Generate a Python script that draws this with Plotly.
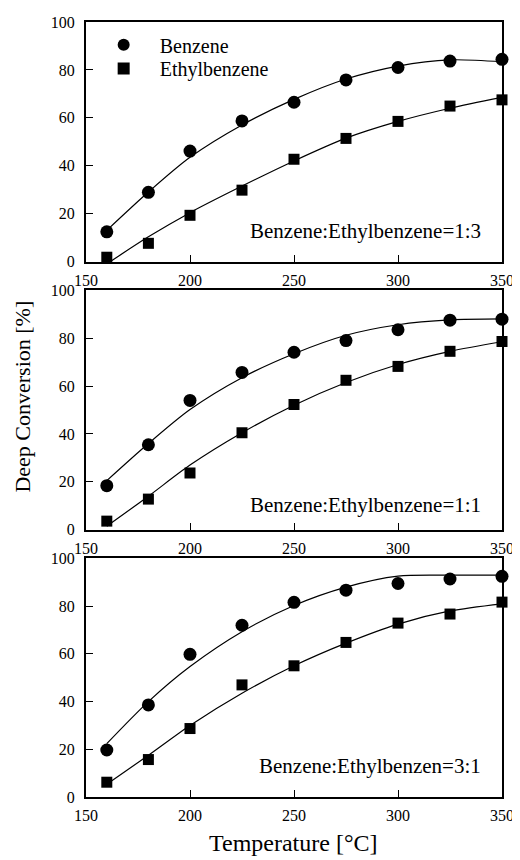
import plotly.graph_objects as go

temps = [160, 180, 200, 225, 250, 275, 300, 325, 350]

# measured points
benz_13 = [12.4, 28.9, 46.1, 58.7, 66.5, 75.8, 81.0, 83.7, 84.4]
ethyl_13 = [1.8, 7.6, 19.3, 29.8, 42.7, 51.4, 58.5, 64.9, 67.5]
benz_11 = [18.4, 35.5, 54.0, 65.7, 74.1, 79.0, 83.5, 87.5, 87.9]
ethyl_11 = [3.6, 12.8, 23.7, 40.5, 52.3, 62.4, 68.2, 74.5, 78.6]
benz_31 = [19.7, 38.6, 59.8, 72.0, 81.6, 86.7, 89.5, 91.4, 92.5]
ethyl_31 = [6.2, 15.7, 28.7, 47.0, 55.0, 64.8, 72.9, 76.7, 81.7]

# fitted curves
fit_temps = [160, 180, 200, 225, 250, 275, 300, 325, 350]
fit_benz_13 = [13.0, 29.0, 43.5, 57.0, 67.7, 76.2, 81.6, 84.2, 83.4]
fit_ethyl_13 = [-1.0, 10.3, 20.4, 31.5, 42.0, 51.5, 58.5, 64.0, 68.5]
fit_benz_11 = [20.5, 36.0, 50.2, 63.5, 73.5, 81.2, 85.6, 87.6, 88.0]
fit_ethyl_11 = [1.5, 14.0, 27.0, 40.5, 52.0, 61.5, 69.0, 74.5, 78.5]
fit_benz_31 = [22.4, 40.0, 54.7, 69.3, 80.3, 88.0, 92.6, 93.0, 93.0]
fit_ethyl_31 = [5.3, 17.5, 30.0, 43.5, 55.0, 64.5, 72.5, 78.0, 81.0]

ratio_labels = ["Benzene:Ethylbenzene=1:3", "Benzene:Ethylbenzene=1:1", "Benzene:Ethylbenzen=3:1"]
label_y = [12.8, 10.3, 12.9]
series_names = ["Benzene", "Ethylbenzene"]
x_ticks = [150, 200, 250, 300, 350]
y_ticks = [0, 20, 40, 60, 80, 100]

FONT = "Liberation Serif, Times New Roman, serif"

panels = [
    (benz_13, ethyl_13, fit_benz_13, fit_ethyl_13),
    (benz_11, ethyl_11, fit_benz_11, fit_ethyl_11),
    (benz_31, ethyl_31, fit_benz_31, fit_ethyl_31),
]

# the page body has an 8px margin, so the figure is 8px smaller and all
# figure-pixel positions are reference positions minus 8
OFF = 8
W, H = 520 - OFF, 860 - OFF
ml, mr, mt, mb = 86 - OFF, 15, 14 - OFF, 63
ph = H - mt - mb
pw = W - ml - mr
panel_px = [(14 - OFF, 256 - OFF), (285 - OFF, 527 - OFF), (556 - OFF, 797 - OFF)]
domains = [[(H - mb - b) / ph, (H - mb - t) / ph] for (t, b) in panel_px]


def px_x(p):
    return (p - OFF - ml) / pw


def px_y(p):
    return (H - mb - (p - OFF)) / ph


fig = go.Figure()
for i, (b, e, fb, fe) in enumerate(panels):
    xa = "x" if i == 0 else f"x{i+1}"
    ya = "y" if i == 0 else f"y{i+1}"
    for fy in (fb, fe):
        fig.add_trace(go.Scatter(x=fit_temps, y=fy, mode="lines",
                                 line=dict(color="black", width=1.2, shape="spline", smoothing=0.8),
                                 xaxis=xa, yaxis=ya, showlegend=False, hoverinfo="skip"))
    fig.add_trace(go.Scatter(x=temps, y=b, mode="markers", marker=dict(symbol="circle", size=13, color="black"),
                             xaxis=xa, yaxis=ya, cliponaxis=False, name=series_names[0],
                             showlegend=(i == 0), legend="legend"))
    fig.add_trace(go.Scatter(x=temps, y=e, mode="markers", marker=dict(symbol="square", size=11, color="black"),
                             xaxis=xa, yaxis=ya, cliponaxis=False, name=series_names[1],
                             showlegend=(i == 0), legend="legend2"))
    fig.add_annotation(x=341, y=label_y[i], xref=xa, yref=ya, text=ratio_labels[i], showarrow=False,
                       xanchor="right", yanchor="middle", font=dict(family=FONT, size=21, color="black"))

axis_common = dict(showline=True, linecolor="black", linewidth=2, mirror=True, ticks="inside", ticklen=7,
                   tickwidth=1, tickcolor="black", showgrid=False, zeroline=False,
                   tickfont=dict(family=FONT, size=16, color="black"))
for i in range(3):
    sx = "" if i == 0 else str(i + 1)
    fig.update_layout(**{
        f"xaxis{sx}": dict(axis_common, domain=[0, 1], range=[150, 350], tickvals=x_ticks,
                           anchor=f"y{sx}", ticklabelstandoff=3),
        f"yaxis{sx}": dict(axis_common, domain=domains[i], range=[0, 100], tickvals=y_ticks,
                           anchor=f"x{sx}", ticklabelstandoff=6),
    })

fig.add_annotation(x=px_x(22), y=px_y(392), xref="paper", yref="paper",
                   xanchor="center", yanchor="middle",
                   text="Deep Conversion [%]", textangle=-90, showarrow=False,
                   font=dict(family=FONT, size=22, color="black"))
fig.add_annotation(x=px_x(295), y=px_y(843), xref="paper", yref="paper",
                   xanchor="center", yanchor="middle",
                   text="Temperature [°C]", showarrow=False,
                   font=dict(family=FONT, size=24, color="black"))

legend_common = dict(xanchor="left", yanchor="middle", bgcolor="rgba(0,0,0,0)",
                     font=dict(family=FONT, size=20, color="black"), itemwidth=62,
                     itemsizing="constant")
fig.update_layout(
    width=W, height=H,
    margin=dict(l=ml, r=mr, t=mt, b=mb),
    paper_bgcolor="white", plot_bgcolor="white",
    legend=dict(legend_common, x=0.004, y=px_y(37)),
    legend2=dict(legend_common, x=0.004, y=px_y(61)),
    showlegend=True,
)

fig.write_html("out.html")
